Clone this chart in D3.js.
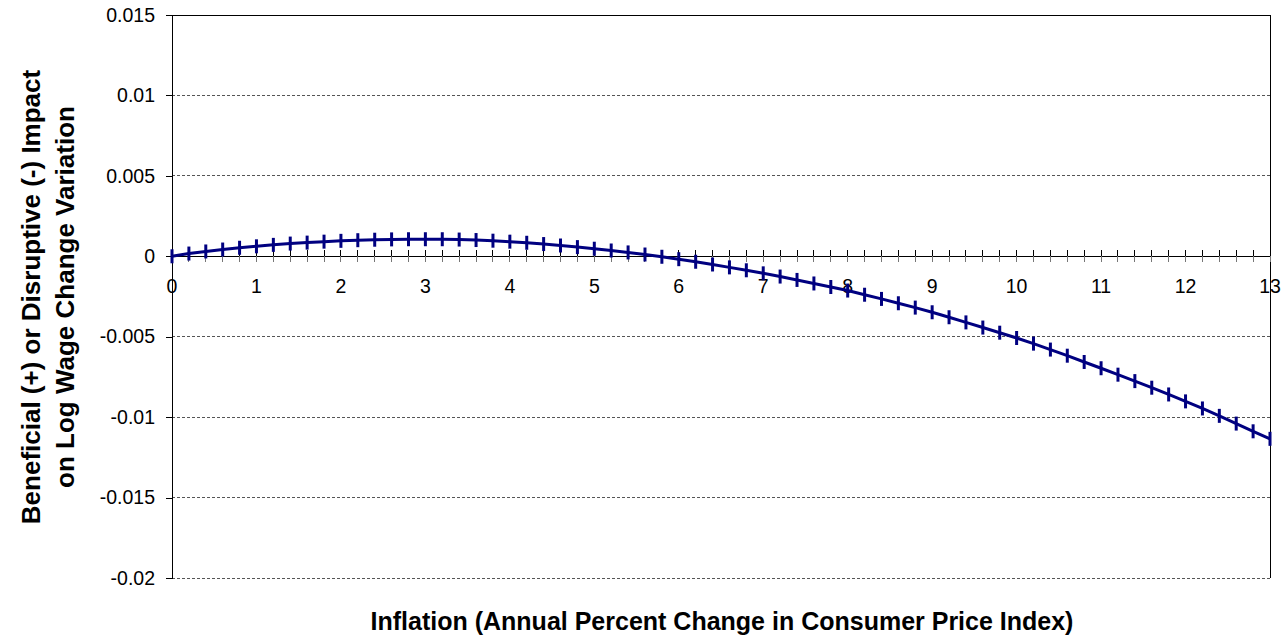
<!DOCTYPE html>
<html>
<head>
<meta charset="utf-8">
<script src="https://cdn.jsdelivr.net/npm/d3@7"></script>
<style>
  body { margin: 0; background: #fff; }
  text { font-family: Arial, "Liberation Sans", sans-serif; }
</style>
</head>
<body>
<div id="chart"></div>
<script>
// inflation, 0 to 13 in steps of 0.2
const inflation = [
  0, 0.2, 0.4, 0.6, 0.8, 1, 1.2, 1.4, 1.6, 1.8, 2, 2.2, 2.4, 2.6, 2.8, 3, 3.2, 3.4, 3.6, 3.8,
  4, 4.2, 4.4, 4.6, 4.8, 5, 5.2, 5.4, 5.6, 5.8, 6, 6.2, 6.4, 6.6, 6.8, 7, 7.2, 7.4, 7.6, 7.8,
  8, 8.2, 8.4, 8.6, 8.8, 9, 9.2, 9.4, 9.6, 9.8, 10, 10.2, 10.4, 10.6, 10.8, 11, 11.2, 11.4, 11.6, 11.8,
  12, 12.2, 12.4, 12.6, 12.8, 13
];
const impact = [
  0, 0.00017, 0.0003, 0.00042, 0.00053, 0.00062, 0.00071, 0.00079, 0.00085, 0.00091,
  0.00096, 0.001, 0.00103, 0.00105, 0.00106, 0.00106, 0.00106, 0.00104, 0.00101, 0.00097,
  0.00091, 0.00084, 0.00076, 0.00067, 0.00057, 0.00047, 0.00036, 0.00024, 0.00011, -0.00003,
  -0.00018, -0.00034, -0.00051, -0.00069, -0.00087, -0.00106, -0.00126, -0.00147, -0.00169, -0.00191,
  -0.00213, -0.00239, -0.00265, -0.00292, -0.00319, -0.00348, -0.00379, -0.00411, -0.00443, -0.00475,
  -0.00508, -0.00543, -0.0058, -0.00618, -0.00657, -0.00696, -0.00736, -0.00776, -0.00817, -0.00859,
  -0.00902, -0.00946, -0.00992, -0.0104, -0.01088, -0.01135
];
const xLabels = [0, 1, 2, 3, 4, 5, 6, 7, 8, 9, 10, 11, 12, 13];
const yTicks = [0.015, 0.01, 0.005, 0, -0.005, -0.01, -0.015, -0.02];
const yTitle = ["Beneficial (+) or Disruptive (-) Impact", "on Log Wage Change Variation"];
const xTitle = "Inflation (Annual Percent Change in Consumer Price Index)";

const W = 1282, H = 640;
const margin = { top: 15, right: 12, bottom: 62, left: 172 };

const svg = d3.select("#chart").append("svg")
  .attr("width", W)
  .attr("height", H);

const x = d3.scaleLinear().domain([0, 13]).range([margin.left, W - margin.right]);
const y = d3.scaleLinear().domain([-0.02, 0.015]).range([H - margin.bottom, margin.top]);

// gridlines
svg.append("g")
  .selectAll("line")
  .data(yTicks.filter(d => d !== 0.015))
  .join("line")
  .attr("x1", x(0)).attr("x2", x(13))
  .attr("y1", d => y(d)).attr("y2", d => y(d))
  .attr("stroke", "#555")
  .attr("stroke-width", 1)
  .attr("stroke-dasharray", "3,2")
  .attr("shape-rendering", "crispEdges");

// border: top, right
svg.append("path")
  .attr("d", `M${x(0)},${y(0.015)}H${x(13)}V${y(-0.02)}`)
  .attr("fill", "none")
  .attr("stroke", "#000")
  .attr("shape-rendering", "crispEdges");

// y axis
const yAxis = svg.append("g")
  .attr("transform", `translate(${x(0)},0)`)
  .call(d3.axisLeft(y).tickValues(yTicks).tickSize(6).tickPadding(11).tickFormat(d => String(+d.toFixed(3))));
yAxis.select(".domain").attr("shape-rendering", "crispEdges");
yAxis.selectAll(".tick line").attr("shape-rendering", "crispEdges");
yAxis.selectAll("text").attr("font-size", 19.5).attr("fill", "#000")
  .attr("font-family", "Arial, 'Liberation Sans', sans-serif");

// x axis at y = 0
const x0 = y(0);
svg.append("line")
  .attr("x1", x(0)).attr("x2", x(13))
  .attr("y1", x0).attr("y2", x0)
  .attr("stroke", "#000")
  .attr("shape-rendering", "crispEdges");

const ticks = svg.append("g").selectAll("g").data(inflation).join("g");
ticks.append("line")
  .attr("x1", d => x(d)).attr("x2", d => x(d))
  .attr("y1", x0 - 6).attr("y2", x0)
  .attr("stroke", "#000")
  .attr("shape-rendering", "crispEdges");
ticks.append("line")
  .attr("x1", d => x(d)).attr("x2", d => x(d))
  .attr("y1", x0).attr("y2", x0 + 6)
  .attr("stroke", "#777")
  .attr("shape-rendering", "crispEdges");

svg.append("g").selectAll("text")
  .data(xLabels)
  .join("text")
  .attr("x", d => x(d))
  .attr("y", x0 + 37)
  .attr("text-anchor", "middle")
  .attr("font-size", 19.5)
  .text(d => d);

// curve
const pts = inflation.map((d, i) => [d, impact[i]]);
svg.append("path")
  .datum(pts)
  .attr("d", d3.line().x(d => x(d[0])).y(d => y(d[1])))
  .attr("fill", "none")
  .attr("stroke", "#000080")
  .attr("stroke-width", 3);

// dash markers
svg.append("g").selectAll("line")
  .data(pts)
  .join("line")
  .attr("x1", d => x(d[0])).attr("x2", d => x(d[0]))
  .attr("y1", d => y(d[1]) - 7).attr("y2", d => y(d[1]) + 7)
  .attr("stroke", "#000080")
  .attr("stroke-width", 3);

// titles
svg.append("text")
  .attr("transform", `translate(39.5,297) rotate(-90)`)
  .attr("text-anchor", "middle")
  .attr("font-size", 26)
  .attr("font-weight", "bold")
  .selectAll("tspan")
  .data(yTitle)
  .join("tspan")
  .attr("x", 0)
  .attr("dy", (d, i) => i === 0 ? 0 : 34)
  .text(d => d);

svg.append("text")
  .attr("x", 722)
  .attr("y", 630)
  .attr("text-anchor", "middle")
  .attr("font-size", 25)
  .attr("font-weight", "bold")
  .text(xTitle);
</script>
</body>
</html>
